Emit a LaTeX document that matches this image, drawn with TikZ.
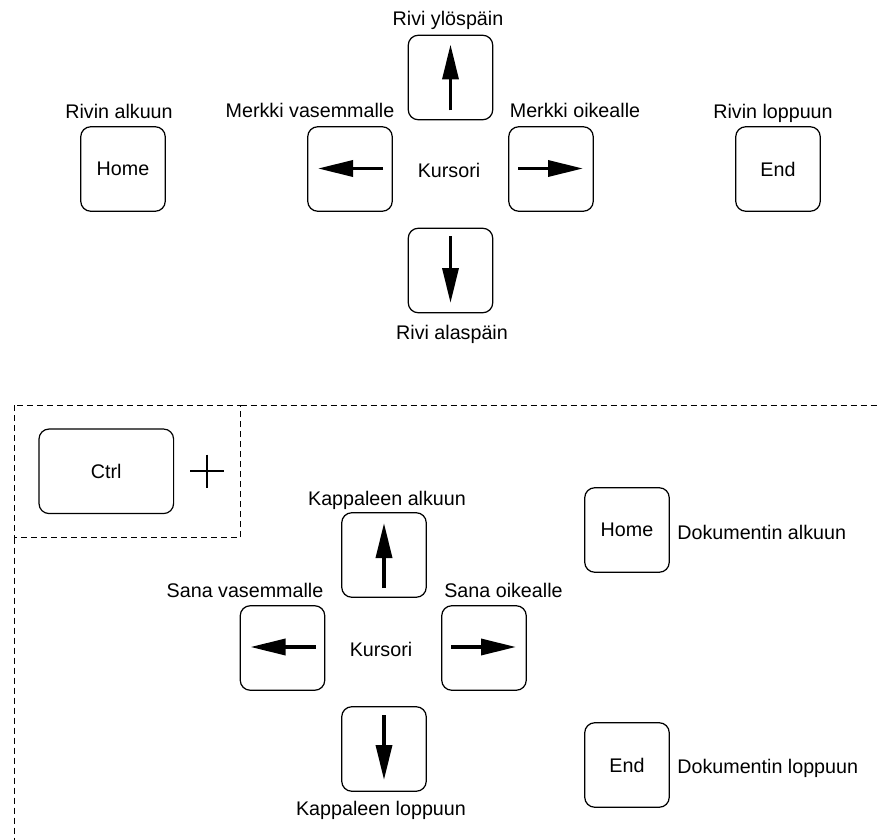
\documentclass[tikz,border=0pt]{standalone}
\usepackage{fontspec}
\setmainfont{Liberation Sans}
\usetikzlibrary{arrows.meta,calc}
\newcommand\lblfont{\fontsize{9.85}{11.8}\selectfont}
\begin{document}
\begin{tikzpicture}[x=0.5pt,y=-0.5pt,
  key/.style={draw,line width=0.6pt,rounded corners=5pt,minimum width=42.25pt,minimum height=42.25pt,inner sep=0pt,font=\lblfont},
  lbl/.style={font=\lblfont,inner sep=0pt,anchor=base},
  karrow/.style={line width=1.75pt,-{Triangle[length=17.5pt,width=8pt]}},
  frame/.style={line width=0.5pt,dash pattern=on 3pt off 2pt}]
\useasboundingbox (0,0) rectangle (879,840);
% ---- top group
\node[key] (up) at (450.5,77.5) {};
\node[key] (left) at (350,169) {};
\node[key] (right) at (551,169) {};
\node[key] (down) at (450.5,270.5) {};
\node[key] (home) at (123,169) {Home};
\node[key] (end) at (778,169) {End};
\node[lbl] (lup) at (448,26) {Rivi ylöspäin};
\node[lbl] (lleft) at (310,118) {Merkki vasemmalle};
\node[lbl] (lright) at (575,118) {Merkki oikealle};
\node[lbl] (lhome) at (119,119) {Rivin alkuun};
\node[lbl] (lend) at (773,119) {Rivin loppuun};
\node[lbl] (ldown) at (452,339) {Rivi alaspäin};
\node[lbl] (kurs) at (449,177) {Kursori};
\draw[karrow] ($(up.center)+(0,33)$) -- ($(up.center)+(0,-33)$);
\draw[karrow] ($(left.center)+(33,-0.5)$) -- ($(left.center)+(-32,-0.5)$);
\draw[karrow] ($(right.center)+(-33,-0.5)$) -- ($(right.center)+(32,-0.5)$);
\draw[karrow] ($(down.center)+(0,-34)$) -- ($(down.center)+(0,32.5)$);
% ---- bottom group
\draw[frame] (14,405) rectangle (240.7,537.7);
\draw[frame] (240.7,405) -- (879,405);
\draw[frame] (14,537.7) -- (14,840);
\node[key,minimum width=67.3pt] (ctrl) at (106.3,471.3) {Ctrl};
\coordinate (pc) at (207,471);
\draw[line width=0.6pt] ($(pc)+(-17,0)$) -- ($(pc)+(17,0)$);
\draw[line width=0.6pt] ($(pc)+(0,-16.5)$) -- ($(pc)+(0,16.5)$);
\node[key] (bup) at (384,555) {};
\node[key] (bleft) at (282.5,648) {};
\node[key] (bright) at (484,648) {};
\node[key] (bdown) at (384,749) {};
\node[key] (bhome) at (627,530) {Home};
\node[key] (bend) at (627,765) {End};
\node[lbl] (lbup) at (387,505) {Kappaleen alkuun};
\node[lbl] (lbleft) at (245,597) {Sana vasemmalle};
\node[lbl] (lbright) at (503.5,597) {Sana oikealle};
\node[lbl] (bkurs) at (381,656) {Kursori};
\node[lbl] (lbdown) at (381,815) {Kappaleen loppuun};
\node[lbl,anchor=base west] (lbhome) at (677,539) {Dokumentin alkuun};
\node[lbl,anchor=base west] (lbend) at (677,773) {Dokumentin loppuun};
\draw[karrow] ($(bup.center)+(0,33)$) -- ($(bup.center)+(0,-32)$);
\draw[karrow] ($(bleft.center)+(33,-1)$) -- ($(bleft.center)+(-32,-1)$);
\draw[karrow] ($(bright.center)+(-33,-1)$) -- ($(bright.center)+(32,-1)$);
\draw[karrow] ($(bdown.center)+(0,-34)$) -- ($(bdown.center)+(0,31)$);
\end{tikzpicture}
\end{document}
